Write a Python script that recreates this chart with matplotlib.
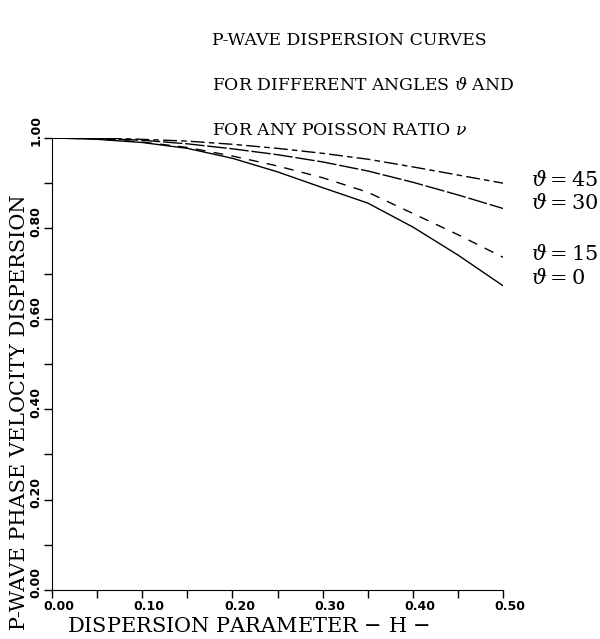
import matplotlib
matplotlib.use('Agg')
import matplotlib.pyplot as plt
import matplotlib.transforms as mtransforms
import numpy as np

plt.rcParams['mathtext.fontset'] = 'dejavuserif'

# dispersion parameter H
H = [0.0, 0.05, 0.10, 0.15, 0.20, 0.25, 0.30, 0.35, 0.40, 0.45, 0.50]

# velocity dispersion for each angle
v0 = [1.0, 0.997, 0.990, 0.977, 0.955, 0.925, 0.890, 0.856, 0.803, 0.741, 0.673]
v15 = [1.0, 0.998, 0.991, 0.979, 0.960, 0.938, 0.912, 0.880, 0.833, 0.786, 0.736]
v30 = [1.0, 0.999, 0.995, 0.987, 0.976, 0.963, 0.947, 0.927, 0.902, 0.874, 0.844]
v45 = [1.0, 1.0, 0.997, 0.993, 0.986, 0.977, 0.966, 0.953, 0.936, 0.918, 0.900]

labels = [r'$\vartheta = 45$', r'$\vartheta = 30$', r'$\vartheta = 15$', r'$\vartheta = 0$']
label_y = [0.907, 0.856, 0.744, 0.691]

xticks = [0.0, 0.1, 0.2, 0.3, 0.4, 0.5]
yticks = [0.0, 0.2, 0.4, 0.6, 0.8, 1.0]

fig = plt.figure(figsize=(6, 6.39), dpi=100)
ax = fig.add_axes([0.0867, 0.0767, 0.7517, 0.7074])

ax.plot(H, v0, color='k', lw=1.0, ls='-')
ax.plot(H, v15, color='k', lw=1.0, ls=(0, (7, 6)))
ax.plot(H, v30, color='k', lw=1.0, ls=(0, (14, 2)))
ax.plot(H, v45, color='k', lw=1.0, ls=(0, (10, 3, 4, 3)))

for lab, yy in zip(labels, label_y):
    ax.text(0.531, yy, lab, fontsize=15, va='center', ha='left', clip_on=False)

ax.set_xlim(0, 0.5)
ax.set_ylim(0, 1.0)
ax.spines['top'].set_visible(False)
ax.spines['right'].set_visible(False)
ax.set_xticks(xticks)
ax.set_xticks(np.arange(0.05, 0.5, 0.1), minor=True)
ax.set_yticks(yticks)
ax.set_yticks(np.arange(0.1, 1.0, 0.2), minor=True)
ax.set_xticklabels(['%.2f' % t for t in xticks], fontsize=9, fontweight='bold')
ax.set_yticklabels(['%.2f' % t for t in yticks], fontsize=9, fontweight='bold',
                   rotation=90, va='center')
ax.tick_params(which='both', direction='out', length=6, width=1, pad=1)

# shift tick labels a little, as in the original plot
dx = mtransforms.ScaledTranslation(0.07, 0, fig.dpi_scale_trans)
for t in ax.get_xticklabels():
    t.set_transform(t.get_transform() + dx)
dy = mtransforms.ScaledTranslation(0, 0.07, fig.dpi_scale_trans)
for t in ax.get_yticklabels():
    t.set_transform(t.get_transform() + dy)

ax.set_xlabel(r'DISPERSION PARAMETER $-$ H $-$', family='DejaVu Serif', fontsize=15)
ax.xaxis.set_label_coords(0.435, -0.06)
ax.set_ylabel('P-WAVE PHASE VELOCITY DISPERSION', family='DejaVu Serif', fontsize=15)
ax.yaxis.set_label_coords(-0.05, 0.394)

fig.text(0.353, 0.929, 'P-WAVE DISPERSION CURVES', family='DejaVu Serif', fontsize=12.4)
fig.text(0.353, 0.859, r'FOR DIFFERENT ANGLES $\vartheta$ AND', family='DejaVu Serif', fontsize=12.4)
fig.text(0.353, 0.789, r'FOR ANY POISSON RATIO $\nu$', family='DejaVu Serif', fontsize=12.4)

fig.savefig('out.png', dpi=100, facecolor='white')
